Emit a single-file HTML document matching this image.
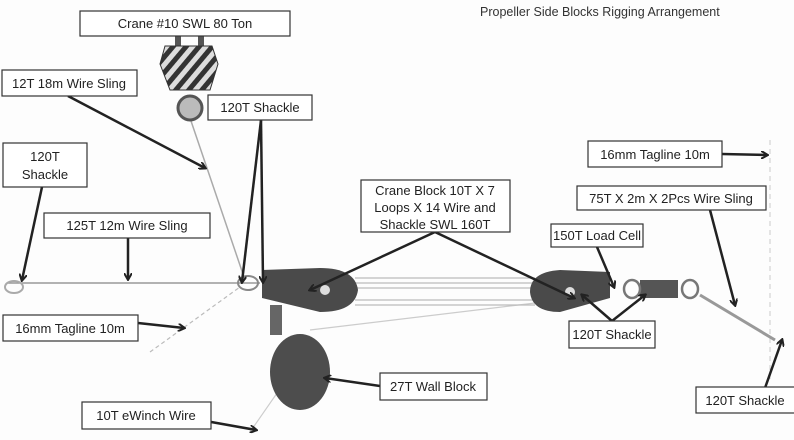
<!DOCTYPE html>
<html><head><meta charset="utf-8"><style>
html,body{margin:0;padding:0;background:#fff;}
svg{display:block;font-family:"Liberation Sans",sans-serif;}
.b{fill:#fff;stroke:#333;stroke-width:1.2}
.t{font-size:13px;fill:#222}
.a{stroke:#222;stroke-width:2.5;fill:none;marker-end:url(#ah)}
</style></head><body>
<svg width="794" height="440" viewBox="0 0 794 440">
<defs><marker id="ah" markerWidth="8" markerHeight="8" refX="6" refY="4" orient="auto" markerUnits="userSpaceOnUse"><path d="M0,0 L7,4 L0,8" fill="none" stroke="#222" stroke-width="2"/></marker>
<pattern id="st" width="10" height="10" patternUnits="userSpaceOnUse" patternTransform="rotate(40)"><rect width="10" height="10" fill="#ddd"/><rect width="5" height="10" fill="#333"/></pattern></defs>
<rect width="794" height="440" fill="#fdfdfd"/>
<line x1="8" y1="283" x2="260" y2="283" stroke="#999" stroke-width="1.5"/>
<line x1="190" y1="118" x2="245" y2="280" stroke="#aaa" stroke-width="1.5"/>
<line x1="150" y1="352" x2="240" y2="287" stroke="#bbb" stroke-width="1.2" stroke-dasharray="4,3"/>
<line x1="770" y1="140" x2="770" y2="380" stroke="#ccc" stroke-width="1" stroke-dasharray="5,4"/>
<line x1="300" y1="360" x2="250" y2="432" stroke="#ccc" stroke-width="1.2"/>
<line x1="310" y1="330" x2="560" y2="300" stroke="#ccc" stroke-width="1.2"/>
<g stroke="#bbb" stroke-width="1.3">
<line x1="355" y1="278" x2="535" y2="278"/><line x1="355" y1="283" x2="535" y2="283"/>
<line x1="355" y1="288" x2="535" y2="288"/><line x1="355" y1="300" x2="535" y2="300"/>
<line x1="355" y1="305" x2="535" y2="305"/></g>
<rect x="175" y="36" width="6" height="10" fill="#555"/><rect x="198" y="36" width="6" height="10" fill="#555"/>
<path d="M165,46 L212,46 L218,64 L210,90 L170,90 L160,64 Z" fill="url(#st)" stroke="#333"/>
<circle cx="190" cy="108" r="12" fill="#bbb" stroke="#555" stroke-width="3"/>
<path d="M262,270 L320,268 Q355,268 358,290 Q355,312 320,312 L262,298 Z" fill="#4a4a4a"/>
<circle cx="325" cy="290" r="5" fill="#ddd"/>
<path d="M610,272 L560,270 Q530,272 530,292 Q532,312 560,312 L610,298 Z" fill="#4a4a4a"/>
<circle cx="570" cy="292" r="5" fill="#ddd"/>
<rect x="640" y="280" width="38" height="18" fill="#555"/>
<ellipse cx="632" cy="289" rx="8" ry="9" fill="none" stroke="#777" stroke-width="2.5"/>
<ellipse cx="690" cy="289" rx="8" ry="9" fill="none" stroke="#777" stroke-width="2.5"/>
<line x1="700" y1="295" x2="775" y2="340" stroke="#999" stroke-width="3"/>
<ellipse cx="248" cy="283" rx="10" ry="7" fill="none" stroke="#888" stroke-width="2"/>
<ellipse cx="14" cy="287" rx="9" ry="6" fill="none" stroke="#aaa" stroke-width="2"/>
<rect x="270" y="305" width="12" height="30" fill="#666"/>
<ellipse cx="300" cy="372" rx="30" ry="38" fill="#4d4d4d"/>
<line class="a" x1="68" y1="96" x2="205" y2="168"/>
<line class="a" x1="261" y1="120" x2="242" y2="282"/>
<line class="a" x1="261" y1="120" x2="263" y2="282"/>
<line class="a" x1="42" y1="187" x2="22" y2="280"/>
<line class="a" x1="128" y1="238" x2="128" y2="279"/>
<line class="a" x1="138" y1="323" x2="184" y2="328"/>
<line class="a" x1="200" y1="420" x2="256" y2="430"/>
<line class="a" x1="435" y1="232" x2="310" y2="290"/>
<line class="a" x1="435" y1="232" x2="574" y2="298"/>
<line class="a" x1="597" y1="247" x2="614" y2="287"/>
<line class="a" x1="612" y1="321" x2="582" y2="295"/>
<line class="a" x1="612" y1="321" x2="645" y2="295"/>
<line class="a" x1="710" y1="210" x2="735" y2="305"/>
<line class="a" x1="722" y1="154" x2="767" y2="155"/>
<line class="a" x1="765" y1="388" x2="782" y2="340"/>
<line class="a" x1="380" y1="386" x2="325" y2="378"/>
<text x="480" y="16" font-size="12.5" fill="#333">Propeller Side Blocks Rigging Arrangement</text>
<rect class="b" x="80" y="11" width="210" height="25"/><text class="t" x="185" y="28" text-anchor="middle">Crane #10 SWL 80 Ton</text>
<rect class="b" x="2" y="70" width="135" height="26"/><text class="t" x="69" y="88" text-anchor="middle">12T 18m Wire Sling</text>
<rect class="b" x="208" y="95" width="104" height="25"/><text class="t" x="260" y="112" text-anchor="middle">120T Shackle</text>
<rect class="b" x="3" y="143" width="84" height="44"/><text class="t" x="45" y="161" text-anchor="middle">120T</text><text class="t" x="45" y="179" text-anchor="middle">Shackle</text>
<rect class="b" x="588" y="141" width="134" height="26"/><text class="t" x="655" y="159" text-anchor="middle">16mm Tagline 10m</text>
<rect class="b" x="361" y="180" width="149" height="52"/>
<text class="t" x="435" y="195" text-anchor="middle">Crane Block 10T X 7</text><text class="t" x="435" y="212" text-anchor="middle">Loops X 14 Wire and</text><text class="t" x="435" y="229" text-anchor="middle">Shackle SWL 160T</text>
<rect class="b" x="577" y="186" width="189" height="24"/><text class="t" x="671" y="203" text-anchor="middle">75T X 2m X 2Pcs Wire Sling</text>
<rect class="b" x="44" y="213" width="166" height="25"/><text class="t" x="127" y="230" text-anchor="middle">125T 12m Wire Sling</text>
<rect class="b" x="551" y="224" width="92" height="23"/><text class="t" x="597" y="240" text-anchor="middle">150T Load Cell</text>
<rect class="b" x="3" y="315" width="135" height="26"/><text class="t" x="70" y="333" text-anchor="middle">16mm Tagline 10m</text>
<rect class="b" x="569" y="321" width="86" height="27"/><text class="t" x="612" y="339" text-anchor="middle">120T Shackle</text>
<rect class="b" x="380" y="373" width="107" height="27"/><text class="t" x="433" y="391" text-anchor="middle">27T Wall Block</text>
<rect class="b" x="82" y="402" width="129" height="27"/><text class="t" x="146" y="420" text-anchor="middle">10T eWinch Wire</text>
<rect class="b" x="696" y="387" width="100" height="26"/><text class="t" x="745" y="405" text-anchor="middle">120T Shackle</text>
</svg>
</body></html>
